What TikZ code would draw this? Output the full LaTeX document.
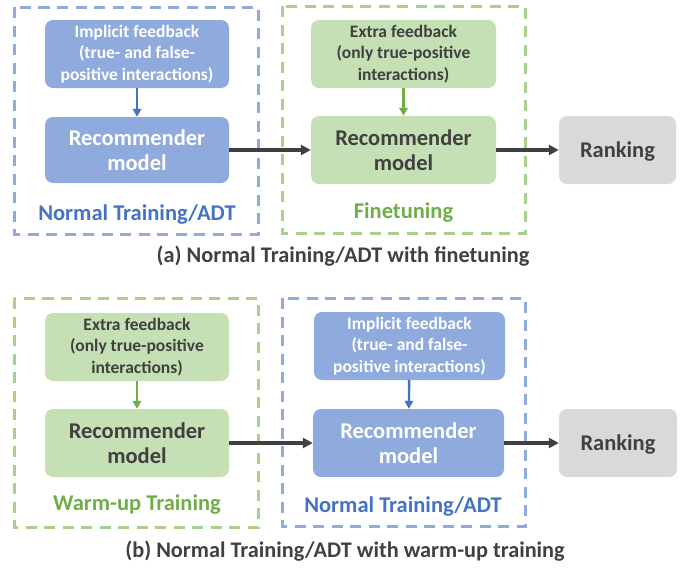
\documentclass[tikz,border=0pt]{standalone}
\usepackage{fontspec}
\setmainfont{Carlito}
\usetikzlibrary{arrows.meta}

\definecolor{bluefill}{HTML}{8FAADC}
\definecolor{bluetext}{HTML}{4472C4}
\definecolor{greenfill}{HTML}{C5E0B4}
\definecolor{greenline}{HTML}{A9D18E}
\definecolor{greentext}{HTML}{70AD47}
\definecolor{grayfill}{HTML}{D9D9D9}
\definecolor{darktext}{HTML}{404040}

\begin{document}
\begin{tikzpicture}[x=1pt,y=-1pt,
		box/.style={rounded corners=8pt,inner sep=0pt,align=center,font=\bfseries\fontsize{22.5}{25.5}\selectfont},
		feedbox/.style={box,font=\bfseries\fontsize{17.5}{21.5}\selectfont},
		bluebox/.style={fill=bluefill,text=white},
		greenbox/.style={fill=greenfill,text=darktext},
		graybox/.style={fill=grayfill,text=darktext,text height=14pt,text depth=0pt},
		frame/.style={line width=3pt,dash pattern=on 11pt off 7.5pt},
		flow/.style={draw=darktext,line width=3.2pt,-{Triangle[length=10pt,width=10pt]}},
		feed/.style={line width=2.4pt,-{Triangle[length=8pt,width=8.5pt]}},
		title/.style={font=\bfseries\fontsize{22.5}{25}\selectfont},
		caption/.style={font=\bfseries\fontsize{22.3}{25}\selectfont,text=darktext}]
		\useasboundingbox (0,0) rectangle (694,571);
		
		% (a) normal training followed by finetuning
		\draw[frame,draw=bluefill] (14,7) rectangle (258,234);
		\draw[frame,draw=greenline] (282,6) rectangle (525,233);
		
		\node[feedbox,bluebox,minimum width=184pt,minimum height=68pt] (impa) at (137,54) {Implicit feedback\\(true- and false-\\positive interactions)};
		\node[box,bluebox,minimum width=184pt,minimum height=66pt] (reca) at (137,150) {Recommender\\model};
		\node[title,text=bluetext] (nta) at (137,215) {Normal Training/ADT};
		
		\node[feedbox,greenbox,minimum width=185pt,minimum height=68pt] (exta) at (403.5,54) {Extra feedback\\(only true-positive\\interactions)};
		\node[box,greenbox,minimum width=185pt,minimum height=68pt] (fta) at (403.5,150) {Recommender\\model};
		\node[title,text=greentext] (fina) at (403.5,213) {Finetuning};
		
		\node[box,graybox,minimum width=117pt,minimum height=68pt] (ranka) at (617.5,150) {Ranking};
		
		\draw[feed,draw=bluetext] (impa) -- (reca);
		\draw[feed,draw=greentext] (exta) -- (fta);
		\draw[flow] (reca) -- (fta);
		\draw[flow] (fta) -- (ranka);
		
		\node[caption] (capa) at (343,256) {(a) Normal Training/ADT with finetuning};
		
		% (b) warm-up training followed by normal training
		\draw[frame,draw=greenline] (14,298) rectangle (258,527);
		\draw[frame,draw=bluefill] (282,298) rectangle (525,526);
		
		\node[feedbox,greenbox,minimum width=184pt,minimum height=68pt] (extb) at (137,347) {Extra feedback\\(only true-positive\\interactions)};
		\node[box,greenbox,minimum width=184pt,minimum height=68pt] (wub) at (137,443) {Recommender\\model};
		\node[title,text=greentext] (warmb) at (137,505) {Warm-up Training};
		
		\node[feedbox,bluebox,minimum width=191pt,minimum height=68pt] (impb) at (409.5,346) {Implicit feedback\\(true- and false-\\positive interactions)};
		\node[box,bluebox,minimum width=191pt,minimum height=68pt] (recb) at (408.5,443) {Recommender\\model};
		\node[title,text=bluetext] (ntb) at (403,507) {Normal Training/ADT};
		
		\node[box,graybox,minimum width=118pt,minimum height=68pt] (rankb) at (618,443) {Ranking};
		
		\draw[feed,draw=greentext] (extb) -- (wub);
		\draw[feed,draw=bluetext] (impb) -- (recb);
		\draw[flow] (wub) -- (recb);
		\draw[flow] (recb) -- (rankb);
		
		\node[caption] (capb) at (345,551) {(b) Normal Training/ADT with warm-up training};
		
	\end{tikzpicture}
\end{document}
